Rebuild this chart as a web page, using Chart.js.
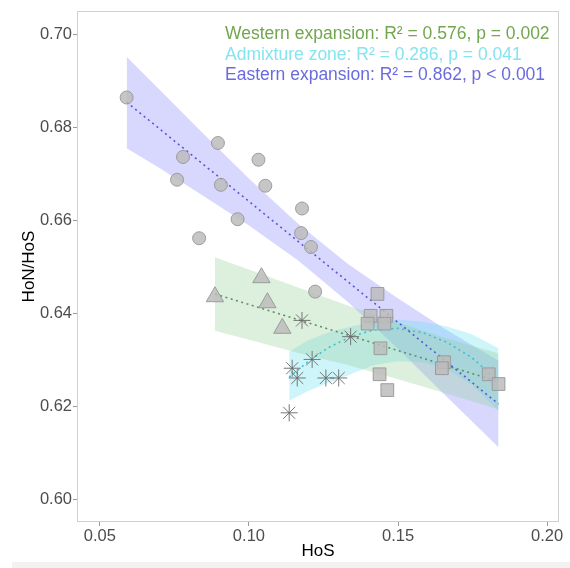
<!DOCTYPE html>
<html>
<head>
<meta charset="utf-8">
<script src="https://cdn.jsdelivr.net/npm/chart.js@4.4.1/dist/chart.umd.min.js"></script>
<style>
  html, body { margin: 0; padding: 0; background: #ffffff; }
  #wrap { width: 570px; height: 568px; }
</style>
</head>
<body>
<div id="wrap"><canvas id="chart" width="570" height="568"></canvas></div>
<script>
// --- data ---
const xTicks = [0.05, 0.10, 0.15, 0.20];
const yTicks = [0.60, 0.62, 0.64, 0.66, 0.68, 0.70];

// eastern populations (circles)
const circleX = [0.0590, 0.0759, 0.0779, 0.0833, 0.0896, 0.0906, 0.0962, 0.1032, 0.1055, 0.1175, 0.1178, 0.1208, 0.1222];
const circleY = [0.6865, 0.6688, 0.6737, 0.6562, 0.6767, 0.6677, 0.6603, 0.6731, 0.6675, 0.6573, 0.6626, 0.6543, 0.6447];
// western populations (triangles)
const triX = [0.0886, 0.1042, 0.1062, 0.1112];
const triY = [0.6436, 0.6477, 0.6423, 0.6368];
// admixture zone (asterisks)
const starX = [0.1178, 0.1341, 0.1212, 0.1145, 0.1162, 0.1258, 0.1301, 0.1135];
const starY = [0.6385, 0.6350, 0.6301, 0.6282, 0.6261, 0.6261, 0.6261, 0.6186];
// squares
const squareX = [0.1431, 0.1408, 0.1461, 0.1398, 0.1454, 0.1441, 0.1438, 0.1464, 0.1654, 0.1647, 0.1804, 0.1837];
const squareY = [0.6442, 0.6395, 0.6395, 0.6378, 0.6378, 0.6325, 0.6269, 0.6235, 0.6295, 0.6282, 0.6269, 0.6248];

// fitted lines and confidence bands
const eastLineX = [0.0590, 0.1837];
const eastLineY = [0.6855, 0.6205];
const eastBandX = [0.0590, 0.0700, 0.0833, 0.0999, 0.1165, 0.1331, 0.1498, 0.1664, 0.1837];
const eastUpper = [0.6953, 0.6882, 0.6796, 0.6691, 0.6593, 0.6507, 0.6433, 0.6364, 0.6298];
const eastLower = [0.6756, 0.6713, 0.6659, 0.6590, 0.6514, 0.6425, 0.6325, 0.6220, 0.6112];

const westLineX = [0.0886, 0.1837];
const westLineY = [0.6442, 0.6253];
const westBandX = [0.0886, 0.1032, 0.1165, 0.1331, 0.1498, 0.1664, 0.1837];
const westUpper = [0.6521, 0.6487, 0.6456, 0.6417, 0.6381, 0.6346, 0.6314];
const westLower = [0.6363, 0.6338, 0.6315, 0.6289, 0.6259, 0.6227, 0.6193];

const admixX     = [0.1135, 0.1198, 0.1265, 0.1341, 0.1415, 0.1498, 0.1581, 0.1664, 0.1747, 0.1837];
const admixLineY = [0.6263, 0.6296, 0.6326, 0.6350, 0.6364, 0.6368, 0.6359, 0.6338, 0.6305, 0.6254];
const admixUpper = [0.6318, 0.6342, 0.6359, 0.6372, 0.6382, 0.6387, 0.6382, 0.6372, 0.6355, 0.6325];
const admixLower = [0.6212, 0.6233, 0.6250, 0.6269, 0.6288, 0.6297, 0.6295, 0.6280, 0.6246, 0.6190];

const statLabels = [
  "Western expansion: R\u00B2 = 0.576, p = 0.002",
  "Admixture zone: R\u00B2 = 0.286, p = 0.041",
  "Eastern expansion: R\u00B2 = 0.862, p < 0.001"
];
const statColors = ["#72a64f", "#86e3f0", "#6b6be0"];

// --- helpers ---
const pts = (xs, ys) => xs.map((x, i) => ({ x: x, y: ys[i] }));
const FONT = '"Liberation Sans", Arial, sans-serif';

function band(xs, upper, lower, fillColor) {
  return [
    { data: pts(xs, upper), showLine: true, borderWidth: 0, pointRadius: 0, fill: '+1', backgroundColor: fillColor, order: 3 },
    { data: pts(xs, lower), showLine: true, borderWidth: 0, pointRadius: 0, fill: false, order: 3 }
  ];
}
function fitLine(xs, ys, color) {
  return { data: pts(xs, ys), showLine: true, borderColor: color, borderWidth: 1.6, borderDash: [2, 3.5], pointRadius: 0, fill: false, order: 2 };
}
function markers(xs, ys, style, radius, fill, stroke) {
  return { data: pts(xs, ys), pointStyle: style, pointRadius: radius, backgroundColor: fill, borderColor: stroke, borderWidth: 1, order: 1 };
}

const frame = {
  id: 'frame',
  beforeDraw(chart) {
    const ctx = chart.ctx;
    ctx.save();
    ctx.fillStyle = '#f2f2f2';
    ctx.fillRect(12, 562, 558, 6);
    ctx.restore();
  },
  afterDraw(chart) {
    const { ctx, chartArea } = chart;
    ctx.save();
    ctx.strokeStyle = '#d0d0d0';
    ctx.lineWidth = 1;
    ctx.strokeRect(chartArea.left + 0.5, chartArea.top + 0.5, chartArea.right - chartArea.left - 1, chartArea.bottom - chartArea.top - 1);
    ctx.font = '17.5px ' + FONT;
    ctx.textBaseline = 'middle';
    statLabels.forEach((t, i) => {
      ctx.fillStyle = statColors[i];
      ctx.fillText(t, chartArea.left + 148, chartArea.top + 23 + i * 20.7);
    });
    ctx.restore();
  }
};

const tickFont = { family: FONT, size: 16.5 };
const markFill = 'rgba(188,188,188,0.85)';
const markEdge = 'rgba(150,150,150,0.9)';

new Chart(document.getElementById('chart').getContext('2d'), {
  type: 'scatter',
  data: {
    datasets: [
      markers(circleX, circleY, 'circle', 6.5, markFill, markEdge),
      markers(triX, triY, 'triangle', 10, markFill, markEdge),
      markers(squareX, squareY, 'rect', 9, markFill, markEdge),
      markers(starX, starY, 'star', 8.5, 'rgba(105,105,105,0.9)', 'rgba(105,105,105,0.9)'),
      fitLine(eastLineX, eastLineY, '#5656d8'),
      fitLine(westLineX, westLineY, '#5f8f5f'),
      fitLine(admixX, admixLineY, '#3cbfd0'),
      ...band(westBandX, westUpper, westLower, 'rgba(150,205,150,0.32)'),
      ...band(admixX, admixUpper, admixLower, 'rgba(100,225,240,0.32)'),
      ...band(eastBandX, eastUpper, eastLower, 'rgba(125,125,255,0.30)')
    ]
  },
  options: {
    responsive: false,
    animation: false,
    devicePixelRatio: 1,
    layout: { padding: { left: 0, top: 7, right: 7, bottom: 0 } },
    plugins: { legend: { display: false }, tooltip: { enabled: false } },
    scales: {
      x: {
        type: 'linear',
        min: 0.04235,
        max: 0.20397,
        afterBuildTicks: (s) => { s.ticks = xTicks.map(v => ({ value: v })); },
        afterFit: (s) => { s.height = 46; },
        grid: { drawOnChartArea: false, tickLength: 4, color: '#9a9a9a' },
        border: { display: false },
        ticks: { font: tickFont, color: '#4d4d4d', padding: 1, maxRotation: 0, callback: (v) => v.toFixed(2) },
        title: { display: true, text: 'HoS', color: '#000', font: { family: FONT, size: 17 }, padding: { top: 0, bottom: 6 } }
      },
      y: {
        type: 'linear',
        min: 0.59509,
        max: 0.70513,
        afterBuildTicks: (s) => { s.ticks = yTicks.map(v => ({ value: v })); },
        afterFit: (s) => { s.width = 77; },
        grid: { drawOnChartArea: false, tickLength: 4, color: '#9a9a9a' },
        border: { display: false },
        ticks: { font: tickFont, color: '#4d4d4d', padding: 1, callback: (v) => v.toFixed(2) },
        title: { display: true, text: 'HoN/HoS', color: '#000', font: { family: FONT, size: 17 }, padding: { top: 19, bottom: 0 } }
      }
    }
  },
  plugins: [frame]
});
</script>
</body>
</html>
